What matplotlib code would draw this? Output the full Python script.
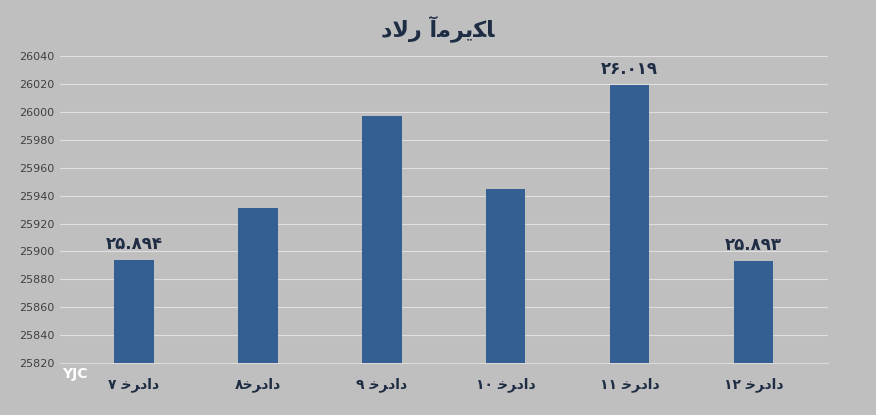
import matplotlib
matplotlib.use('Agg')
import matplotlib.pyplot as plt

# Persian text in presentation forms (logical order): matplotlib reorders but does not shape
title = 'ﺩﻻﺭ ﺁﻣﺮﻳﻜﺎ'
days = ['۷ ﺧﺮﺩﺍﺩ', '۸ﺧﺮﺩﺍﺩ', '۹ ﺧﺮﺩﺍﺩ', '۱۰ ﺧﺮﺩﺍﺩ', '۱۱ ﺧﺮﺩﺍﺩ', '۱۲ ﺧﺮﺩﺍﺩ']
values = [25894, 25931, 25997, 25945, 26019, 25893]
value_labels = ['۲۵.۸۹۴', '', '', '', '۲۶.۰۱۹', '۲۵.۸۹۳']
yticks = list(range(25820, 26041, 20))

bg = '#bfbfbf'
fig = plt.figure(figsize=(8.76, 4.15), dpi=100, facecolor=bg)
ax = fig.add_axes([0.068, 0.125, 0.877, 0.74], facecolor=bg)
x = range(len(days))
ax.bar(x, values, width=0.32, color='#335f93', zorder=3)
for i, (v, lab) in enumerate(zip(values, value_labels)):
    if lab:
        ax.text(i, v + 5, lab, ha='center', va='bottom', fontsize=12,
                fontweight='bold', color='#1f2d44')
ax.set_ylim(25820, 26040)
ax.set_yticks(yticks)
ax.set_yticklabels([str(t) for t in yticks], fontsize=8, color='#404040')
ax.set_xticks(list(x))
ax.set_xticklabels(days, fontsize=10, fontweight='bold', color='#1f2d44')
ax.set_xlim(-0.6, 5.6)
ax.grid(axis='y', color='#e0e0e0', linewidth=0.8, zorder=0)
for s in ax.spines.values():
    s.set_visible(False)
ax.spines['bottom'].set_visible(True)
ax.spines['bottom'].set_color('#d9d9d9')
ax.tick_params(axis='x', length=0, pad=10)
ax.tick_params(axis='y', length=0)
fig.text(0.5, 0.93, title, ha='center', va='center', fontsize=16,
         fontweight='bold', color='#1f2d44')
fig.text(0.085, 0.09, 'YJC', ha='center', fontsize=10, fontweight='bold', color='white')
fig.savefig('out.png', facecolor=bg)
